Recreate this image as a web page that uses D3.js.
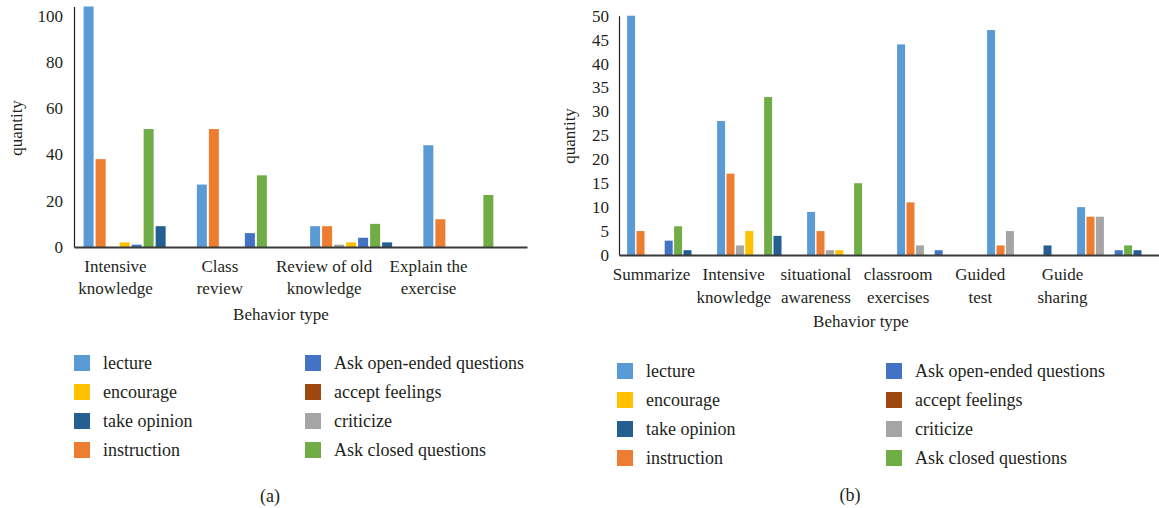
<!DOCTYPE html>
<html>
<head>
<meta charset="utf-8">
<script src="https://cdn.jsdelivr.net/npm/d3@7"></script>
<style>
  html, body { margin: 0; padding: 0; background: #fff; }
  svg { display: block; }
  svg text { font-family: "Liberation Serif", "Times New Roman", Times, "DejaVu Serif", serif !important; }
</style>
</head>
<body>
<svg id="chart" width="1159" height="508"></svg>
<script>
// Series, in the order the bars sit inside each cluster
const seriesKeys = ["lecture", "instruction", "criticize", "encourage",
                    "Ask open-ended questions", "Ask closed questions", "take opinion", "accept feelings"];
const seriesColors = ["#5B9BD5", "#ED7D31", "#A5A5A5", "#FFC000", "#4472C4", "#70AD47", "#255E91", "#9E480E"];
// Legend layout: two columns of four
const legendCol1 = ["lecture", "encourage", "take opinion", "instruction"];
const legendCol2 = ["Ask open-ended questions", "accept feelings", "criticize", "Ask closed questions"];

// Panel (a)
const categoriesA = [["Intensive", "knowledge"], ["Class", "review"], ["Review of old", "knowledge"], ["Explain the", "exercise"]];
// values per category, in seriesKeys order
const lectureA     = [104, 27, 9, 44];
const instructionA = [38, 51, 9, 12];
const criticizeA   = [0, 0, 1, 0];
const encourageA   = [2, 0, 2, 0];
const openA        = [1, 6, 4, 0];
const closedA      = [51, 31, 10, 22.5];
const opinionA     = [9, 0, 2, 0];
const feelingsA    = [0, 0, 0, 0];
const ticksA       = [0, 20, 40, 60, 80, 100];

// Panel (b)
const categoriesB = [["Summarize"], ["Intensive", "knowledge"], ["situational", "awareness"],
                     ["classroom", "exercises"], ["Guided", "test"], ["Guide", "sharing"]];
const lectureB     = [50, 28, 9, 44, 47, 10];
const instructionB = [5, 17, 5, 11, 2, 8];
const criticizeB   = [0, 2, 1, 2, 5, 8];
const encourageB   = [0, 5, 1, 0, 0, 0];
const openB        = [3, 0, 0, 1, 0, 1];
const closedB      = [6, 33, 15, 0, 0, 2];
const opinionB     = [1, 4, 0, 0, 2, 1];
const feelingsB    = [0, 0, 0, 0, 0, 0];
const ticksB       = [0, 5, 10, 15, 20, 25, 30, 35, 40, 45, 50];

const color = d3.scaleOrdinal().domain(seriesKeys).range(seriesColors);
const svg = d3.select("#chart");
const textColor = "#231f20";

function drawPanel(cfg) {
  const g = svg.append("g");
  const cats = cfg.categories.map((c, i) => "c" + i);
  const x0 = d3.scaleBand().domain(cats).range([cfg.x0, cfg.x1]).paddingInner(0).paddingOuter(0);
  const x1 = d3.scaleBand().domain(seriesKeys).range([0, x0.bandwidth()])
    .paddingInner(cfg.barPadInner).paddingOuter(cfg.barPadOuter);
  const y = d3.scaleLinear().domain(cfg.yDomain).range([cfg.yBase, cfg.yTop]);

  const rows = cats.map((c, i) => ({ cat: c, values: seriesKeys.map((k, j) => ({ key: k, value: cfg.series[j][i] })) }));

  // bars
  g.append("g").selectAll("g").data(rows).join("g")
    .attr("transform", d => `translate(${x0(d.cat)},0)`)
    .selectAll("rect").data(d => d.values.filter(v => v.value > 0)).join("rect")
    .attr("x", d => x1(d.key))
    .attr("width", x1.bandwidth())
    .attr("y", d => y(d.value))
    .attr("height", d => y(0) - y(d.value))
    .attr("fill", d => color(d.key));

  // y axis
  const yAxis = g.append("g").attr("transform", `translate(${cfg.x0},0)`)
    .call(d3.axisLeft(y).tickValues(cfg.ticks).tickSize(0).tickSizeOuter(0).tickPadding(cfg.tickPad));
  yAxis.attr("font-family", null);
  yAxis.select(".domain").attr("stroke", "#231f20").attr("stroke-width", 1.2);
  yAxis.selectAll("text").attr("font-size", 17).attr("fill", textColor);

  // x axis baseline
  const xAxis = g.append("g").attr("transform", `translate(0,${cfg.yBase})`)
    .call(d3.axisBottom(x0).tickSize(0).tickSizeOuter(0).tickFormat(""));
  xAxis.select(".domain").attr("stroke", "#3a3a3a").attr("stroke-width", 2);

  // category labels
  const lab = d3.scalePoint().domain(cats).range(cfg.labelRange);
  const labAxis = g.append("g").attr("transform", `translate(0,${cfg.yBase})`)
    .call(d3.axisBottom(lab).tickSize(0).tickSizeOuter(0).tickFormat(""));
  labAxis.attr("font-family", null);
  labAxis.select(".domain").remove();
  labAxis.selectAll(".tick").each(function (d, i) {
    const t = d3.select(this).append("text")
      .attr("fill", textColor).attr("font-size", 17).attr("text-anchor", "middle");
    cfg.categories[i].forEach((line, k) => {
      t.append("tspan").attr("x", 0).attr("y", cfg.labelY1 + k * cfg.labelLine).text(line);
    });
  });

  // axis titles
  g.append("text")
    .attr("transform", `translate(${cfg.yTitleX},${cfg.yTitleY}) rotate(-90)`)
    .attr("text-anchor", "middle").attr("font-size", 17).attr("fill", textColor)
    .text("quantity");
  g.append("text")
    .attr("x", cfg.xTitleX).attr("y", cfg.xTitleY)
    .attr("text-anchor", "middle").attr("font-size", 17).attr("fill", textColor)
    .text("Behavior type");

  // legend
  const legend = g.append("g");
  [legendCol1, legendCol2].forEach((col, ci) => {
    col.forEach((key, ri) => {
      const cy = cfg.legY + ri * cfg.legStep;
      const lx = cfg.legX[ci];
      legend.append("rect").attr("x", lx).attr("y", cy - 8).attr("width", 16).attr("height", 16)
        .attr("fill", color(key));
      legend.append("text").attr("x", lx + cfg.legTextGap).attr("y", cy).attr("dy", "0.33em")
        .attr("font-size", 18).attr("fill", textColor).text(key);
    });
  });

  // panel caption
  g.append("text").attr("x", cfg.capX).attr("y", cfg.capY).attr("dy", "0.33em")
    .attr("text-anchor", "middle").attr("font-size", 18).attr("fill", textColor).text(cfg.caption);
}

drawPanel({
  categories: categoriesA,
  series: [lectureA, instructionA, criticizeA, encourageA, openA, closedA, opinionA, feelingsA],
  ticks: ticksA,
  x0: 74, x1: 527, yBase: 247, yTop: 6.5, yDomain: [0, 104],
  barPadInner: 0.167, barPadOuter: 0.8, tickPad: 11,
  labelRange: [115, 428], labelY1: 25, labelLine: 22,
  yTitleX: 22, yTitleY: 128, xTitleX: 281, xTitleY: 320,
  legX: [74, 305], legY: 363, legStep: 29, legTextGap: 29,
  caption: "(a)", capX: 270, capY: 496
});

drawPanel({
  categories: categoriesB,
  series: [lectureB, instructionB, criticizeB, encourageB, openB, closedB, opinionB, feelingsB],
  ticks: ticksB,
  x0: 619, x1: 1159, yBase: 255, yTop: 15.7, yDomain: [0, 50],
  barPadInner: 0.149, barPadOuter: 0.862, tickPad: 10,
  labelRange: [651, 1062], labelY1: 25, labelLine: 23,
  yTitleX: 575, yTitleY: 136, xTitleX: 861, xTitleY: 327,
  legX: [617, 886], legY: 371, legStep: 29, legTextGap: 29,
  caption: "(b)", capX: 850, capY: 495
});
</script>
</body>
</html>
